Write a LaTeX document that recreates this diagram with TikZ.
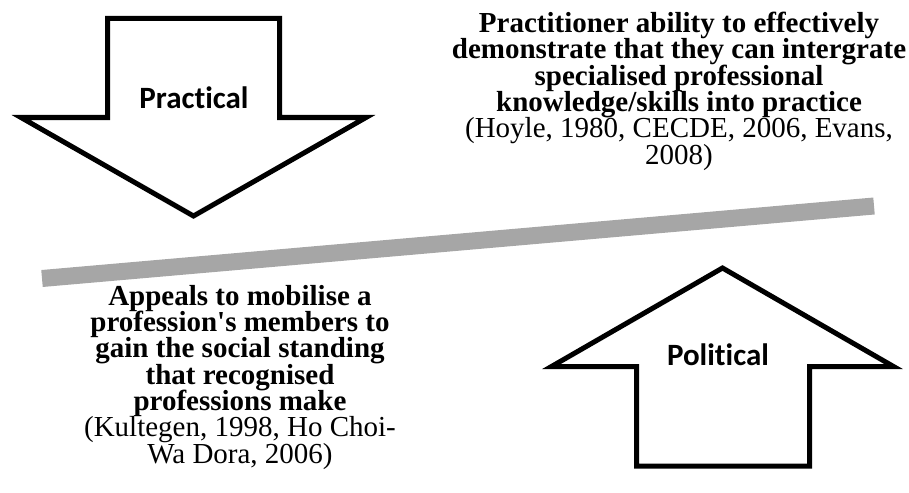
\documentclass[tikz,border=0pt]{standalone}
\usepackage{fontspec}
\setmainfont{Liberation Serif}
\newfontfamily\labelfont[Ligatures={NoCommon,NoContextual}]{Carlito}
\usepackage{tikz}
\definecolor{BarGray}{RGB}{166,166,166}
\newcommand{\descfont}{\fontsize{29}{26.3}\selectfont\lineskiplimit=-50pt}
\tikzstyle{BlockArrow}=[draw=black, line width=5pt, fill=white, line join=miter]
\tikzstyle{ArrowLabel}=[font=\labelfont\bfseries\fontsize{31}{36}\selectfont, anchor=base, inner sep=0pt]
\tikzstyle{DescText}=[align=center, anchor=north, inner sep=0pt, font=\descfont]
\tikzstyle{Divider}=[line width=17pt, draw=BarGray]

\begin{document}
\begin{tikzpicture}[x=1pt, y=-1pt]
\useasboundingbox (0,0) rectangle (909,492);

\draw[BlockArrow] (107.5,18.5) -- (279.5,18.5) -- (279.5,117.5) -- (366,117.5) -- (193.5,216) -- (21,117.5) -- (107.5,117.5) -- cycle;
\draw[BlockArrow] (722.5,268) -- (893.5,366.5) -- (809.5,366.5) -- (809.5,466) -- (636.5,466) -- (636.5,366.5) -- (551.5,366.5) -- cycle;

\coordinate (BARL) at (42,278.5);
\coordinate (BARR) at (874,206);
\draw[Divider] (BARL) -- (BARR);

\node[ArrowLabel](PRAC) at (194,109) {Practical};
\node[ArrowLabel](POL) at (718,365) {Political};

\node[DescText](PRACTEXT) at (679,12) {\textbf{Practitioner ability to effectively}\\
\textbf{demonstrate that they can intergrate}\\
\textbf{specialised professional}\\
\textbf{knowledge/skills into practice}\\
(Hoyle, 1980, CECDE, 2006, Evans,\\
2008)};
\node[DescText](POLTEXT) at (240,285) {\textbf{Appeals to mobilise a}\\
\textbf{profession\textquotesingle s members to}\\
\textbf{gain the social standing}\\
\textbf{that recognised}\\
\textbf{professions make}\\
(Kultegen, 1998, Ho Choi-\\
Wa Dora, 2006)};
\end{tikzpicture}
\end{document}
